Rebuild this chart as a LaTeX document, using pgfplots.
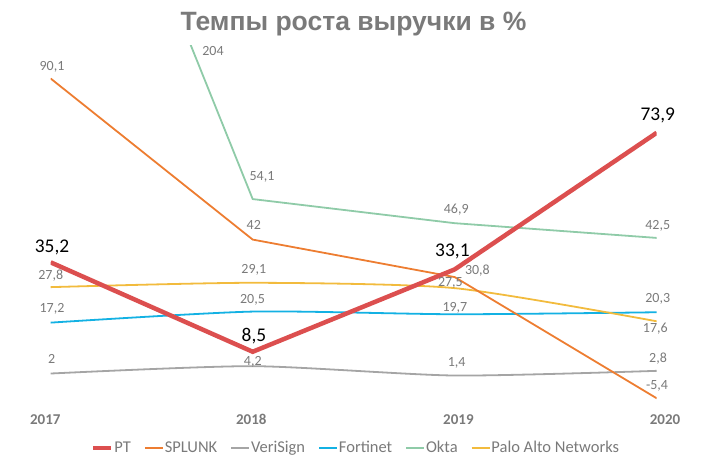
\documentclass[border=0pt]{standalone}
\usepackage{fontspec}
\setmainfont{Carlito}
\newfontfamily\titlefont{Liberation Sans}
\usepackage{pgfplots}
\pgfplotsset{compat=1.18}
\usepackage{pgfplotstable}
\usetikzlibrary{calc}

\definecolor{ptred}{HTML}{DC4F4F}
\definecolor{splunk}{HTML}{ED7D31}
\definecolor{veri}{HTML}{A5A5A5}
\definecolor{forti}{HTML}{13B1E3}
\definecolor{okta}{HTML}{8FCBA8}
\definecolor{palo}{HTML}{F2BB3D}
\definecolor{txt}{HTML}{7A7A7A}

% x = year index, y = growth %, dx/dy = label offset (bp)
\pgfplotstableread{
x y dx dy
0 35.2 1.3 9.9
1 8.5 1.3 10.5
2 33.1 -2.3 12.9
3 73.9 1.1 11.9
}\ptdata
\pgfplotstableread{
x y dx dy
0 90.1 1.3 8.2
1 42 1.1 10
2 30.8 22.7 2.3
3 -5.4 0.3 8.7
}\splunkdata
\pgfplotstableread{
x y dx dy
0 2 1.0 9.7
1 4.2 0.1 1.0
2 1.4 2.0 9.2
3 2.8 1.3 8.5
}\veridata
\pgfplotstableread{
x y dx dy
0 17.2 1.3 10
1 20.5 -0.2 7.8
2 19.7 0.2 2.7
3 20.3 1.0 9.6
}\fortidata
\pgfplotstableread{
x y dx dy
0 204 162.3 -358.1
1 54.1 9.3 18.1
2 46.9 1.5 9.4
3 42.5 1.0 8.9
}\oktadata
\pgfplotstableread{
x y dx dy
0 27.8 0 7.8
1 29.1 1.1 9
2 27.5 -4.3 1.3
3 17.6 -1.4 -11
}\palodata

\tikzset{labfont/.style={font=\fontsize{14bp}{16bp}\selectfont, text=txt}}
\pgfplotsset{
  labs/.style={nodes near coords,
    visualization depends on={\thisrow{dx} \as \dx},
    visualization depends on={\thisrow{dy} \as \dy},
    every node near coord/.append style={anchor=base, inner sep=0pt,
      xshift={\dx*1bp}, yshift={\dy*1bp}, labfont}},
}

\begin{document}
\begin{tikzpicture}
\begin{axis}[name=ax, at={(0,0)}, anchor=south west,
  scale only axis, width=606bp, height=368.3bp,
  xmin=0, xmax=3, ymin=-10, ymax=100,
  axis x line*=bottom, axis y line=none, x axis line style={draw=none},
  xtick={0,1,2,3}, ytick=\empty, major tick length=0pt,
  xticklabels={\kern-10.8bp 2017,\kern-2.8bp 2018,\kern7.4bp 2019,\kern16.6bp 2020},
  xticklabel style={anchor=base, yshift=-11.1bp,
    font=\fontsize{15bp}{18bp}\selectfont\bfseries, text=txt},
  title={Темпы роста выручки в \%},
  title style={at={(0.4997,1)}, anchor=base, yshift=8.7bp,
    font=\titlefont\bfseries\fontsize{26.5bp}{30bp}\selectfont, text=txt},
  legend style={draw=none, fill=none, at={(0.503,0)}, anchor=center, yshift=-34.3bp,
    legend columns=-1, font=\fontsize{16.5bp}{19bp}\selectfont, text=txt,
    /tikz/every even column/.append style={column sep=12bp},
    nodes={inner sep=1bp}},
  legend image code/.code={\draw[#1] (0bp,0bp) -- (18bp,0bp);},
  /pgf/number format/use comma, /pgf/number format/fixed,
  /pgf/number format/precision=1, /pgf/number format/assume math mode=true,
  ]
\addlegendimage{ptred, line width=4.5bp}
\addlegendimage{splunk, line width=1.8bp}
\addlegendimage{veri, line width=1.8bp}
\addlegendimage{forti, line width=1.8bp}
\addlegendimage{okta, line width=1.8bp}
\addlegendimage{palo, line width=1.8bp}

\addplot[forget plot, okta, line width=1.8bp, labs] table[x=x, y=y] {\oktadata};
\addplot[forget plot, veri, line width=1.8bp, smooth, tension=0.4, labs] table[x=x, y=y] {\veridata};
\addplot[forget plot, forti, line width=1.8bp, smooth, tension=0.4, labs] table[x=x, y=y] {\fortidata};
\addplot[forget plot, palo, line width=1.8bp, smooth, tension=0.4, labs] table[x=x, y=y] {\palodata};
\addplot[forget plot, splunk, line width=1.8bp, labs] table[x=x, y=y] {\splunkdata};
\addplot[forget plot, ptred, line width=4.5bp, labs,
  every node near coord/.append style={font=\fontsize{19.4bp}{22bp}\selectfont, text=black}]
  table[x=x, y=y] {\ptdata};

% Okta 2017 (204) lies above the axis; Excel put its label at the top edge
\node[labfont, inner sep=0pt] at (axis cs:0.8035,98.3) {204};

\legend{PT, SPLUNK, VeriSign, Fortinet, Okta, Palo Alto Networks}
\end{axis}
\pgfresetboundingbox
\path[use as bounding box] ($(ax.south west)+(-50.7bp,-47.3bp)$) rectangle ($(ax.south west)+(652.3bp,413.7bp)$);
\end{tikzpicture}
\end{document}
